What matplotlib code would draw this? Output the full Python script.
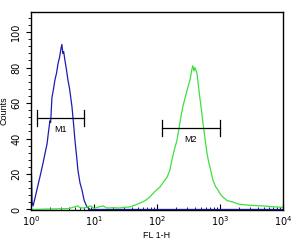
import numpy as np
import matplotlib; matplotlib.use('Agg')
import matplotlib.pyplot as plt
from matplotlib.ticker import LogLocator, MultipleLocator

# blue histogram (M1 population)
blue_x = [1.0, 1.005, 1.02, 1.04, 1.08, 1.15, 1.24, 1.40, 1.55, 1.68, 1.80, 1.90,
          2.00, 2.05, 2.15, 2.28, 2.40, 2.55, 2.68, 2.85, 3.00, 3.10, 3.20, 3.30,
          3.46, 3.65, 3.86, 4.10, 4.47, 4.75, 4.99, 5.30, 5.57, 6.00, 6.45, 7.00,
          7.74, 8.64, 10000]
blue_y = [0, 26, 18, 4, 2, 6, 11, 19, 26, 32, 37, 44,
          50, 49, 63, 68, 73, 77, 82, 86, 91, 93, 88, 89,
          84, 79, 73, 68, 58, 48, 39, 30, 22, 15, 11, 5,
          1.5, 0, 0]

# green histogram (M2 population)
green_x = [1.0, 2.0, 4.0, 5.5, 6.0, 7.0, 8.0, 9.0, 10, 12, 14, 16, 20, 25, 30, 37,
           45, 54, 65, 77, 92, 112, 130, 144, 160, 173, 190, 208, 220, 232, 245,
           258, 285, 311, 335, 359, 372, 387, 400, 431, 455, 480, 510, 537, 580,
           622, 660, 694, 774, 850, 929, 1020, 1116, 1300, 1607, 2000, 2683, 3500,
           4800, 6500, 8040, 10000]
green_y = [0, 0.3, 0.5, 2, 1, 0.8, 1.5, 2, 0.5, 1.5, 2, 0.8, 1, 0.8, 1.2, 1.4,
           2.5, 3.6, 5, 7, 10, 12.7, 16, 18, 22, 28, 34, 39, 44, 49, 54,
           58, 64, 69, 73, 79, 81, 78, 80, 77, 70, 63, 56, 49, 40,
           32, 27, 24, 16.6, 13, 11, 8.5, 7, 5, 4.2, 3, 2.5, 2.2,
           2, 1.6, 1.4, 1.2]

# marker gates: (name, low, high, level)
gates = [('M1', 1.25, 6.9, 51.5), ('M2', 120, 1000, 46)]

fig = plt.figure(figsize=(2.96, 2.40), dpi=100)
ax = fig.add_axes([0.1047, 0.125, 0.851, 0.825])

ax.plot(blue_x, blue_y, color='#1c1cb0', lw=0.9)
ax.plot(green_x, green_y, color='#3ee03e', lw=0.9)

for name, lo, hi, lev in gates:
    ax.plot([lo, hi], [lev, lev], color='black', lw=0.9)
    ax.plot([lo, lo], [lev - 4.5, lev + 4.5], color='black', lw=0.9)
    ax.plot([hi, hi], [lev - 4.5, lev + 4.5], color='black', lw=0.9)
    ax.text(np.sqrt(lo * hi), lev - 6.5, name, ha='center', va='center',
            fontsize=6.5, family='Liberation Sans')

ax.set_xscale('log')
ax.set_xlim(1, 10000)
ax.set_ylim(-0.3, 111.3)
ax.xaxis.set_major_locator(LogLocator(base=10, numticks=10))
ax.xaxis.set_minor_locator(LogLocator(base=10, subs=np.arange(2, 10), numticks=10))
ax.yaxis.set_major_locator(MultipleLocator(20))
ax.yaxis.set_minor_locator(MultipleLocator(4))

ax.tick_params(axis='x', which='both', direction='in', labelsize=7, pad=3)
ax.tick_params(axis='x', which='major', length=4, width=0.8)
ax.tick_params(axis='x', which='minor', length=2.5, width=0.6)
ax.tick_params(axis='y', which='both', direction='out', labelsize=7, pad=3.5)
ax.tick_params(axis='y', which='major', length=3.5, width=0.8)
ax.tick_params(axis='y', which='minor', length=2, width=0.6)
for lbl in ax.get_yticklabels():
    lbl.set_rotation(90)
    lbl.set_va('center')

for s in ax.spines.values():
    s.set_linewidth(1.0)

ax.set_xlabel('FL 1-H', fontsize=6.5, family='Liberation Sans', labelpad=2)
ax.set_ylabel('Counts', fontsize=6.5, family='Liberation Sans', labelpad=2)

plt.savefig('out.png', dpi=100)
